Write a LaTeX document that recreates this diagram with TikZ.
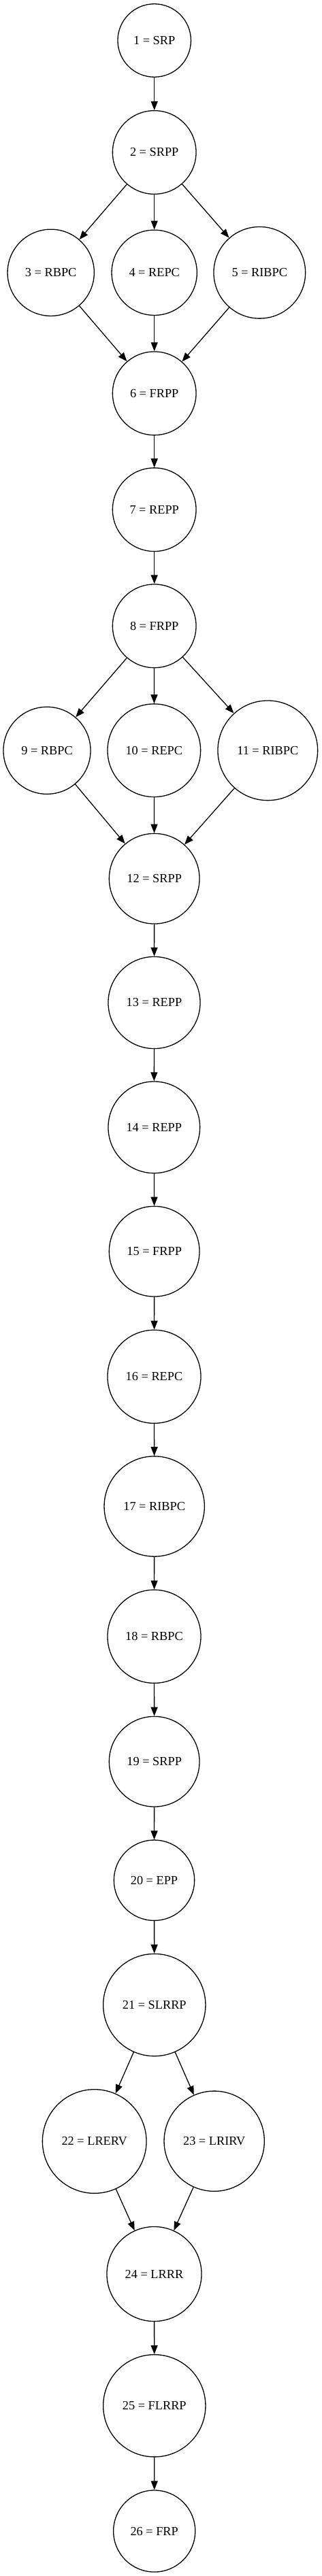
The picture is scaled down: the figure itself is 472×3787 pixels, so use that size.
\documentclass[tikz,border=0pt]{standalone}
\usepackage{fontspec}
\setmainfont{Liberation Serif}
\usetikzlibrary{arrows.meta}
\tikzset{
  st/.style={draw, circle, line width=1.3pt, inner sep=0pt, font=\fontsize{18.3}{22}\selectfont},
  ed/.style={line width=1.3pt, -{Triangle[length=13pt,width=10pt]}}
}
\begin{document}
\begin{tikzpicture}[x=1pt,y=-1pt]
\useasboundingbox (0,0) rectangle (472,3787);
\node[st, minimum size=107.5pt] (n1) at (226.7,59.5) {1 = SRP};
\node[st, minimum size=122.7pt] (n2) at (226.7,224) {2 = SRPP};
\node[st, minimum size=127.3pt] (n3) at (74.7,400.8) {3 = RBPC};
\node[st, minimum size=125.3pt] (n4) at (226.7,400.8) {4 = REPC};
\node[st, minimum size=134.7pt] (n5) at (381.3,400.8) {5 = RIBPC};
\node[st, minimum size=122.7pt] (n6) at (226.7,578.3) {6 = FRPP};
\node[st, minimum size=122.7pt] (n7) at (226.7,749.2) {7 = REPP};
\node[st, minimum size=122.7pt] (n8) at (226.7,920.3) {8 = FRPP};
\node[st, minimum size=128.1pt] (n9) at (69,1103.3) {9 = RBPC};
\node[st, minimum size=136.7pt] (n10) at (226.3,1103.2) {10 = REPC};
\node[st, minimum size=146.7pt] (n11) at (393.3,1103.3) {11 = RIBPC};
\node[st, minimum size=132.7pt] (n12) at (226.7,1291.7) {12 = SRPP};
\node[st, minimum size=135.1pt] (n13) at (226.5,1474) {13 = REPP};
\node[st, minimum size=134.7pt] (n14) at (226.3,1657.3) {14 = REPP};
\node[st, minimum size=132.7pt] (n15) at (226.7,1839.7) {15 = FRPP};
\node[st, minimum size=137.1pt] (n16) at (226.5,2023.8) {16 = REPC};
\node[st, minimum size=147.3pt] (n17) at (226.7,2214.5) {17 = RIBPC};
\node[st, minimum size=137.1pt] (n18) at (226.5,2405.8) {18 = RBPC};
\node[st, minimum size=132.7pt] (n19) at (226.7,2589.7) {19 = SRPP};
\node[st, minimum size=118.3pt] (n20) at (226.5,2764.2) {20 = EPP};
\node[st, minimum size=150.3pt] (n21) at (226.8,2947.5) {21 = SLRRP};
\node[st, minimum size=152.7pt] (n22) at (138.7,3148) {22 = LRERV};
\node[st, minimum size=147.3pt] (n23) at (314.7,3147.7) {23 = LRIRV};
\node[st, minimum size=139.1pt] (n24) at (226.5,3343) {24 = LRRR};
\node[st, minimum size=150.3pt] (n25) at (226.8,3536.7) {25 = FLRRP};
\node[st, minimum size=120.1pt] (n26) at (226.7,3721) {26 = FRP};
\draw[ed] (n1) -- (n2);
\draw[ed] (n2) -- (n3);
\draw[ed] (n2) -- (n4);
\draw[ed] (n2) -- (n5);
\draw[ed] (n3) -- (n6);
\draw[ed] (n4) -- (n6);
\draw[ed] (n5) -- (n6);
\draw[ed] (n6) -- (n7);
\draw[ed] (n7) -- (n8);
\draw[ed] (n8) -- (n9);
\draw[ed] (n8) -- (n10);
\draw[ed] (n8) -- (n11);
\draw[ed] (n9) -- (n12);
\draw[ed] (n10) -- (n12);
\draw[ed] (n11) -- (n12);
\draw[ed] (n12) -- (n13);
\draw[ed] (n13) -- (n14);
\draw[ed] (n14) -- (n15);
\draw[ed] (n15) -- (n16);
\draw[ed] (n16) -- (n17);
\draw[ed] (n17) -- (n18);
\draw[ed] (n18) -- (n19);
\draw[ed] (n19) -- (n20);
\draw[ed] (n20) -- (n21);
\draw[ed] (n21) -- (n22);
\draw[ed] (n21) -- (n23);
\draw[ed] (n22) -- (n24);
\draw[ed] (n23) -- (n24);
\draw[ed] (n24) -- (n25);
\draw[ed] (n25) -- (n26);
\end{tikzpicture}
\end{document}
